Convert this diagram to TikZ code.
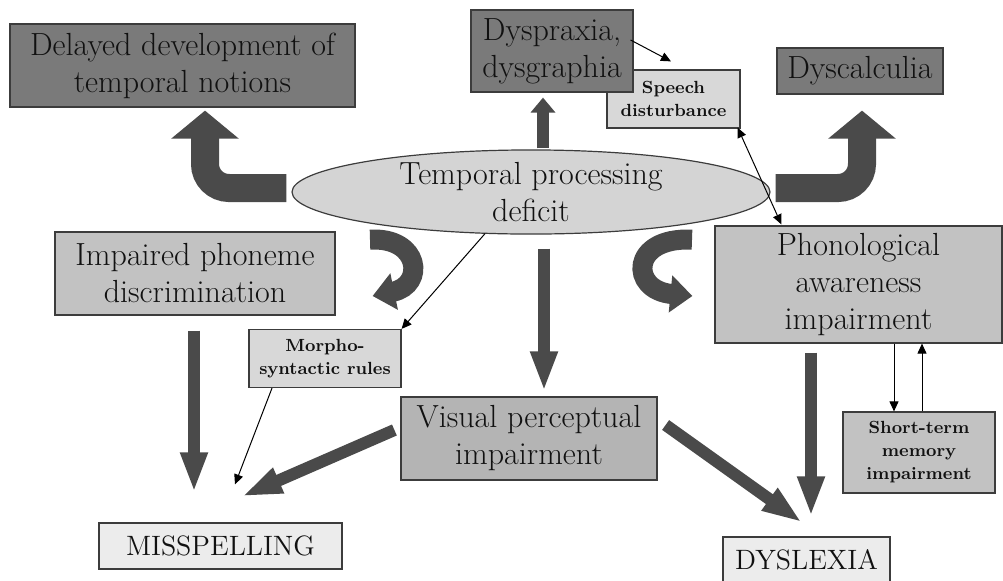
\documentclass[tikz,border=0pt]{standalone}
\usepackage{xcolor}
\usepackage{tikz}
\usetikzlibrary{arrows.meta,calc,shapes.geometric}
\definecolor{Ink}{HTML}{111111}
\definecolor{Edge}{HTML}{3C3C3C}
\definecolor{BoxDark}{HTML}{7A7A7A}
\definecolor{BoxMid}{HTML}{C2C2C2}
\definecolor{BoxVis}{HTML}{B4B4B4}
\definecolor{BoxPale}{HTML}{D8D8D8}
\definecolor{BoxEnd}{HTML}{ECECEC}
\definecolor{Oval}{HTML}{D4D4D4}
\definecolor{ArrowFill}{HTML}{4A4A4A}

\tikzset{
  bigtext/.style={font=\fontsize{16}{18.5}\selectfont},
  capstext/.style={font=\fontsize{14}{17}\selectfont},
  smalltext/.style={font=\fontsize{8.8}{11.5}\selectfont\bfseries},
  box/.style={draw=Edge, line width=0.6pt, rectangle, align=center, inner sep=2pt, text=Ink},
  oval/.style={draw=Edge, line width=0.6pt, fill=Oval, ellipse, align=center, inner sep=0pt, text=Ink},
  fatarrow/.style={draw=ArrowFill, line width=6pt, -{Triangle[length=20pt,width=12.5pt]}},
  bentarrow/.style={draw=ArrowFill, line width=14pt, rounded corners=12pt, -{Triangle[length=14pt,width=33pt]}},
  turnarrow/.style={draw=ArrowFill, line width=10pt, -{Triangle[length=11pt,width=18pt]}},
  thinarrow/.style={draw=black, line width=0.5pt, -{Triangle[length=5pt,width=4.5pt]}}
}

\begin{document}
\begin{tikzpicture}[x=0.5pt,y=-0.5pt]
  \useasboundingbox (0,0) rectangle (1003,580);

  % boxes
  \node[box, fill=BoxDark, bigtext, minimum width=172.5pt, minimum height=41.5pt] (delayed) at (182.5,65.5) {Delayed development of\\temporal notions};
  \node[box, fill=BoxPale, smalltext, minimum width=66.5pt, minimum height=29pt] (speech) at (673.5,99) {Speech\\disturbance};
  \node[box, fill=BoxDark, bigtext, minimum width=81pt, minimum height=41pt] (dyspraxia) at (552,51) {Dyspraxia,\\dysgraphia};
  \node[box, fill=BoxDark, bigtext, minimum width=83pt, minimum height=23pt] (dyscalc) at (860,71) {Dyscalculia};
  \node[oval, bigtext, minimum width=239pt, minimum height=42pt] (deficit) at (531,192) {Temporal processing\\deficit};
  \node[box, fill=BoxMid, bigtext, minimum width=140pt, minimum height=41.5pt] (phoneme) at (195,273.5) {Impaired phoneme\\discrimination};
  \node[box, fill=BoxPale, smalltext, minimum width=76pt, minimum height=29pt] (morpho) at (325,358.5) {Morpho-\\syntactic rules};
  \node[box, fill=BoxMid, bigtext, minimum width=143.5pt, minimum height=58.5pt] (phono) at (858.5,284.5) {Phonological\\awareness\\impairment};
  \node[box, fill=BoxVis, bigtext, minimum width=128pt, minimum height=41.5pt] (visual) at (529,438.5) {Visual perceptual\\impairment};
  \node[box, fill=BoxMid, smalltext, minimum width=76pt, minimum height=40.5pt] (memory) at (919,452.5) {Short-term\\memory\\impairment};
  \node[box, fill=BoxEnd, capstext, minimum width=121.5pt, minimum height=23pt] (misspell) at (220.5,546) {MISSPELLING};
  \node[box, fill=BoxEnd, capstext, minimum width=83.5pt, minimum height=23pt] (dyslexia) at (806.5,560) {DYSLEXIA};

  % big arrows
  \draw[bentarrow] ($(deficit.west)+(-5,-4)$) -| ($(delayed.south)+(22.5,3)$);
  \draw[bentarrow] ($(deficit.east)+(5,-4)$) -| ($(dyscalc.south)+(2,16)$);
  \draw[turnarrow] ($(deficit.south)+(-161,5)$) .. controls +(50,-3) and +(53,-11) .. ($(phoneme.east)+(37,22.5)$);
  \draw[turnarrow] ($(deficit.south)+(161,5)$) .. controls +(-62,-3) and +(-63,-6) .. ($(phono.west)+(-22,11.5)$);
  \draw[fatarrow, -{Triangle[length=7.5pt,width=12pt]}] ($(deficit.north)+(12,-1)$) -- ($(dyspraxia.south)+(-9,5)$);
  \draw[fatarrow] ($(deficit.south)+(13,14)$) -- ($(visual.north)+(15,-5)$);
  \draw[fatarrow] ($(phoneme.south)+(-1,15)$) -- ($(misspell.north)+(-26.5,-30)$);
  \draw[fatarrow] ($(phono.south)+(-47.5,9)$) -- ($(dyslexia.north)+(4.5,-20)$);
  \draw[fatarrow] ($(visual.west)+(-6,-8.5)$) -- ($(misspell.north)+(21.5,-26)$);
  \draw[fatarrow] ($(visual.east)+(8,-13.5)$) -- ($(dyslexia.north)+(-4.5,-14)$);

  % thin links
  \draw[thinarrow] ($(dyspraxia.east)+(-3,-11)$) -- ($(speech.north)+(-2.5,-8)$);
  \draw[thinarrow, {Triangle[length=5pt,width=4.5pt]}-{Triangle[length=5pt,width=4.5pt]}] ($(speech.south east)+(-3,-1)$) -- ($(phono.north west)+(67,-1)$);
  \draw[thinarrow] ($(deficit.south)+(-46,-1)$) -- (morpho.north east);
  \draw[thinarrow] ($(morpho.south)+(-53,0)$) -- ($(misspell.north)+(14.5,-38)$);
  \draw[thinarrow] ($(phono.south)+(35.5,0)$) -- ($(memory.north)+(-25,0)$);
  \draw[thinarrow] ($(memory.north)+(3,0)$) -- ($(phono.south)+(63.5,0)$);
\end{tikzpicture}
\end{document}
